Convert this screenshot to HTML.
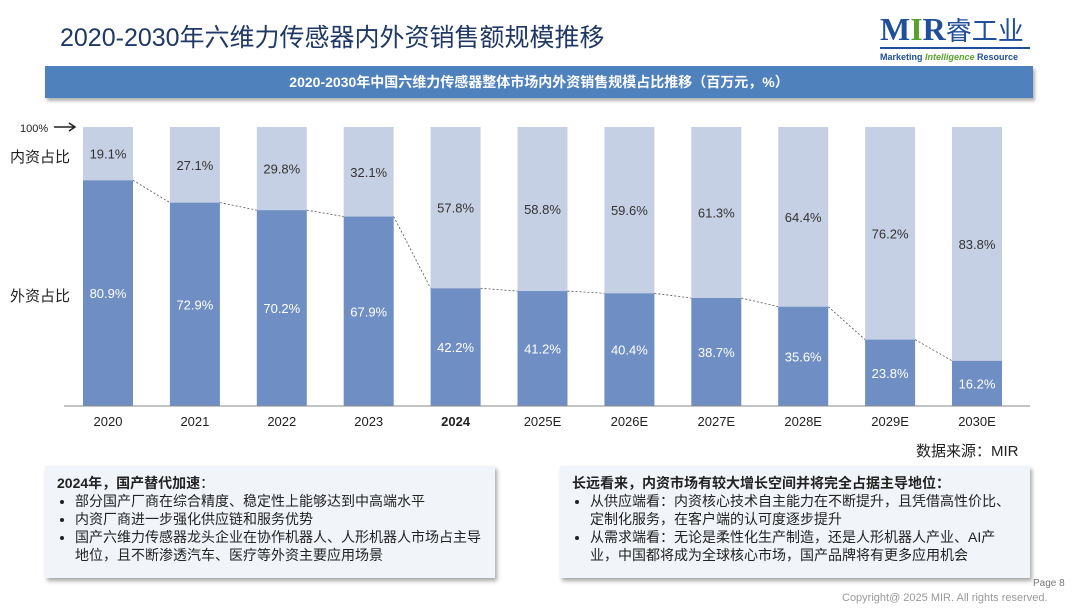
<!DOCTYPE html>
<html><head><meta charset="utf-8"><style>
body{margin:0;width:1080px;height:608px;background:#fff;font-family:"Liberation Sans","Noto Sans CJK SC",sans-serif;position:relative;overflow:hidden}
.abs{position:absolute}
.box{position:absolute;background:#f1f4f9;box-shadow:2px 3px 4px rgba(0,0,0,.35);font-size:14px;color:#222;line-height:18px;padding:8px 12px;box-sizing:border-box}
.box b{font-weight:bold}
.box ul{margin:0;padding-left:18px}
</style></head><body>
<div class="abs" style="left:60px;top:18px;font-size:25px;color:#1f3864">2020-2030年六维力传感器内外资销售额规模推移</div>
<div class="abs" style="left:880px;top:12px;width:150px">
 <div style="font-family:'Liberation Serif',serif;font-size:32px;font-weight:bold;color:#1f4e9a;line-height:34px">M<span style="color:#5aa02c">I</span>R<span style="font-family:'Noto Sans CJK SC',sans-serif;font-weight:normal;font-size:26px">睿工业</span></div>
 <div style="border-top:2px solid #1f4e9a;font-size:9px;color:#1f4e9a;font-weight:bold;padding-top:3px">Marketing <i style="color:#5aa02c">Intelligence</i> Resource</div>
</div>
<div class="abs" style="left:45px;top:66px;width:988px;height:32px;background:#4f81bd;box-shadow:2px 3px 3px rgba(0,0,0,.3);color:#fff;font-weight:bold;font-size:14px;text-align:center;line-height:32px">2020-2030年中国六维力传感器整体市场内外资销售规模占比推移（百万元，%）</div>
<svg class="abs" style="left:0;top:0" width="1080" height="460" id="chart"></svg>
<div class="abs" style="left:916px;top:440px;font-size:15px;color:#222">数据来源：MIR</div>
<div class="box" style="left:45px;top:466px;width:450px;height:112px"><b>2024年，国产替代加速</b>：<ul><li>部分国产厂商在综合精度、稳定性上能够达到中高端水平</li><li>内资厂商进一步强化供应链和服务优势</li><li>国产六维力传感器龙头企业在协作机器人、人形机器人市场占主导地位，且不断渗透汽车、医疗等外资主要应用场景</li></ul></div>
<div class="box" style="left:560px;top:466px;width:470px;height:112px"><b>长远看来，内资市场有较大增长空间并将完全占据主导地位：</b><ul><li>从供应端看：内资核心技术自主能力在不断提升，且凭借高性价比、定制化服务，在客户端的认可度逐步提升</li><li>从需求端看：无论是柔性化生产制造，还是人形机器人产业、AI产业，中国都将成为全球核心市场，国产品牌将有更多应用机会</li></ul></div>
<div class="abs" style="left:1033px;top:578px;font-size:10px;color:#777">Page 8</div>
<div class="abs" style="left:842px;top:592px;font-size:11px;color:#999">Copyright@ 2025 MIR. All rights reserved.</div>
<script>
const years=["2020","2021","2022","2023","2024","2025E","2026E","2027E","2028E","2029E","2030E"];
const domestic=[19.1,27.1,29.8,32.1,57.8,58.8,59.6,61.3,64.4,76.2,83.8];
const foreign=[80.9,72.9,70.2,67.9,42.2,41.2,40.4,38.7,35.6,23.8,16.2];
const svg=document.getElementById('chart');const NS='http://www.w3.org/2000/svg';
const y0=406,H=279,bw=50;
const xC=i=>108+i*86.9;
const yV=v=>y0-v/100*H;
function mk(t,a,txt){const e=document.createElementNS(NS,t);for(const k in a)e.setAttribute(k,a[k]);if(txt!=null)e.textContent=txt;svg.appendChild(e);return e;}
years.forEach((yr,i)=>{
 const x=xC(i)-bw/2;
 let r=mk('rect',{x:x,y:yV(100),width:bw,height:yV(foreign[i])-yV(100),fill:'#c6d0e4'});
 
 let r2=mk('rect',{x:x,y:yV(foreign[i]),width:bw,height:y0-yV(foreign[i]),fill:'#6f8fc4'});
 
 let t1=mk('text',{x:xC(i),y:(yV(100)+yV(foreign[i]))/2+5,'text-anchor':'middle','font-size':13,fill:'#333'},domestic[i].toFixed(1)+'%');
 
 let t2=mk('text',{x:xC(i),y:(y0+yV(foreign[i]))/2+5,'text-anchor':'middle','font-size':13,fill:'#fff'},foreign[i].toFixed(1)+'%');
 
 let t3=mk('text',{x:xC(i),y:426,'text-anchor':'middle','font-size':13,fill:'#222','font-weight':yr==='2024'?'bold':'normal'},yr);
 
 if(i<years.length-1){let l=mk('line',{x1:x+bw,y1:yV(foreign[i]),x2:xC(i+1)-bw/2,y2:yV(foreign[i+1]),stroke:'#555','stroke-dasharray':'2,2','stroke-width':0.8});
 }
});
let ax=mk('line',{x1:64,y1:y0,x2:1030,y2:y0,stroke:'#888','stroke-width':1});
let p=mk('text',{x:20,y:132,'font-size':11,fill:'#222'},'100%');
let ar=mk('path',{d:'M54 127 H74 M69 123 L75 127 L69 131',stroke:'#222','stroke-width':1.5,fill:'none'});
let a1=mk('text',{x:10,y:162,'font-size':15,fill:'#222'},'内资占比');
let a2=mk('text',{x:10,y:301,'font-size':15,fill:'#222'},'外资占比');
</script>
</body></html>
